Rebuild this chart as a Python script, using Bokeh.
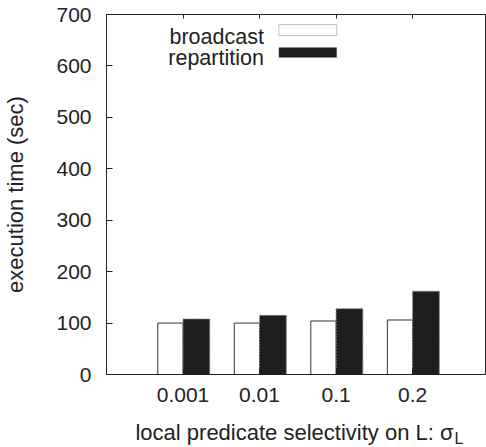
import numpy as np
from bokeh.plotting import figure
from bokeh.models import (Range1d, FixedTicker, LinearAxis, Label, BoxAnnotation,
                          ColumnDataSource)
from bokeh.embed import file_html
from bokeh.resources import INLINE

# ---- data ----
categories = ["0.001", "0.01", "0.1", "0.2"]
broadcast = [100, 100, 104, 106]
repartition = [108, 115, 128, 162]
y_ticks = [0, 100, 200, 300, 400, 500, 600, 700]

FONT = "Liberation Sans"
AX = "#222222"

pos = np.arange(1, len(categories) + 1)

p = figure(width=486, height=447, output_backend="svg", toolbar_location=None,
           x_range=Range1d(0, 4.966), y_range=Range1d(0, 700),
           min_border_left=105, min_border_right=0, min_border_top=14,
           min_border_bottom=73)
p.xgrid.visible = False
p.ygrid.visible = False
p.outline_line_color = AX
p.background_fill_color = "white"
p.border_fill_color = "white"

def style_axis(ax, ticks, show_labels=True):
    ax.ticker = FixedTicker(ticks=[int(t) for t in ticks])
    ax.major_tick_in = 6
    ax.major_tick_out = 0
    ax.minor_tick_line_color = None
    ax.axis_line_color = AX
    ax.major_tick_line_color = AX
    ax.major_label_text_font = FONT
    if show_labels:
        ax.major_label_text_font_size = "21px"
        ax.major_label_text_color = "#222222"
    else:
        ax.major_label_text_font_size = "1px"
        ax.major_label_text_color = None
        ax.major_label_standoff = 0

style_axis(p.xaxis[0], pos)
p.xaxis[0].major_label_overrides = {int(k): c for k, c in zip(pos, categories)}
p.xaxis[0].major_label_standoff = 13
style_axis(p.yaxis[0], y_ticks)
p.yaxis[0].major_label_standoff = 15
p.yaxis[0].axis_label = "execution time (sec)"
p.yaxis[0].axis_label_text_font = FONT
p.yaxis[0].axis_label_text_font_size = "22px"
p.yaxis[0].axis_label_text_font_style = "normal"
p.yaxis[0].axis_label_text_color = "#222222"
p.yaxis[0].axis_label_standoff = 25

top_ax = LinearAxis()
style_axis(top_ax, pos, show_labels=False)
top_ax.major_tick_in = 4
p.add_layout(top_ax, "above")

src = ColumnDataSource(dict(xb=pos - 0.165, xr=pos + 0.175,
                            b=broadcast, r=repartition))
p.vbar(x="xb", top="b", bottom=0, width=0.33, source=src,
       fill_color="white", line_color="#333333", line_width=1)
p.vbar(x="xr", top="r", bottom=0, width=0.35, source=src,
       fill_color="#1e1e1e", line_color="#888888", line_width=1, line_dash="2 1")

# pixel -> data helpers for placing texts / legend
def dx(px):
    return (px - 105.3) / 76.67

def dy(py):
    return (373.7 - py) / 0.5139

# legend (text left of swatch, as in the reference)
p.add_layout(Label(x=dx(263), y=dy(36.5), text="broadcast", text_align="right",
                   text_baseline="alphabetic", text_font=FONT,
                   text_font_size="21.5px", text_color="#222222"))
p.add_layout(Label(x=dx(263), y=dy(57), text="repartition", text_align="right",
                   text_baseline="alphabetic", text_font=FONT,
                   text_font_size="21.5px", text_color="#222222"))
p.add_layout(BoxAnnotation(left=dx(278), right=dx(336), top=dy(24), bottom=dy(35),
                           fill_color="white", fill_alpha=1, line_color="#333333",
                           line_width=1))
p.add_layout(BoxAnnotation(left=dx(278), right=dx(336), top=dy(47), bottom=dy(57),
                           fill_color="#1e1e1e", fill_alpha=1, line_color="#888888",
                           line_width=1, line_dash="2 1"))

# x axis title with subscript, placed in the below panel
p.add_layout(Label(x=dx(453), y=dy(431.7), text="local predicate selectivity on L: \u03c3",
                   text_align="right", text_baseline="alphabetic", text_font=FONT,
                   text_font_size="22px", text_color="#222222"), "below")
p.add_layout(Label(x=dx(454), y=dy(438), text="L",
                   text_align="left", text_baseline="alphabetic", text_font=FONT,
                   text_font_size="16px", text_color="#222222"), "below")

open("out.html", "w").write(file_html(p, INLINE))
